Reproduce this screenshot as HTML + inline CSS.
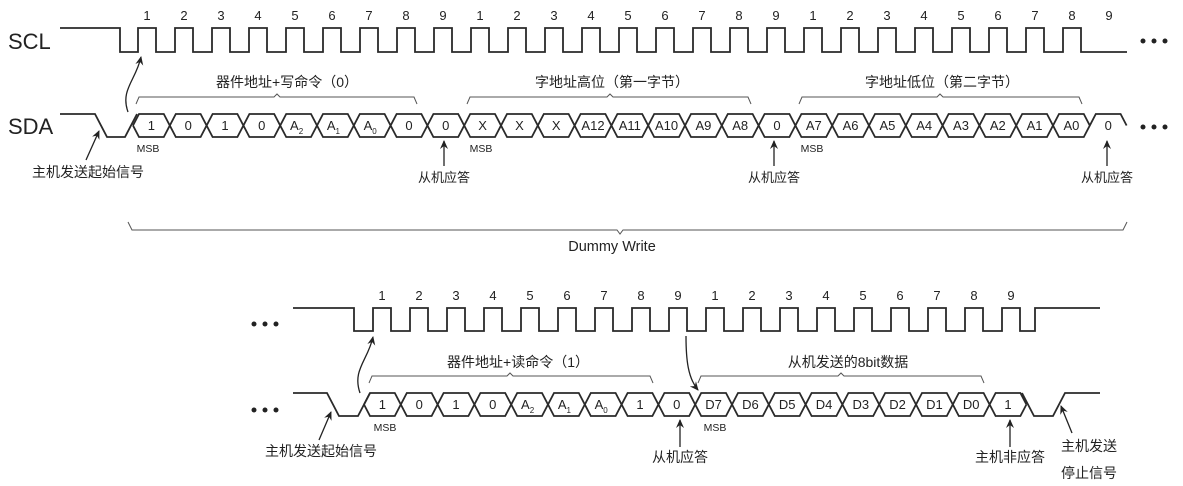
<!DOCTYPE html>
<html><head><meta charset="utf-8"><style>
html,body{margin:0;padding:0;background:#fff;}
svg{display:block;}
text{font-family:"Liberation Sans","Noto Sans CJK SC",sans-serif;fill:#222;}
.n{font-size:13px;text-anchor:middle;}
.c{font-size:13px;text-anchor:middle;}
.m{font-size:10.5px;text-anchor:middle;fill:#444;}
.l{font-size:13px;text-anchor:middle;}
.l2{font-size:14px;text-anchor:middle;}
.big{font-size:22px;}
.w{fill:none;stroke:#2a2a2a;stroke-width:1.8;}
.b{fill:none;stroke:#555;stroke-width:1;}
.a{fill:none;stroke:#222;stroke-width:1.3;}
.dot{fill:#222;}
</style></head><body>
<svg width="1183" height="486" viewBox="0 0 1183 486" xmlns="http://www.w3.org/2000/svg">
<defs><marker id="ah" markerWidth="10" markerHeight="10" refX="8" refY="5" orient="auto" markerUnits="userSpaceOnUse"><path d="M0,1 L9,5 L0,9 L3,5 z" fill="#222"/></marker></defs>

<!-- TOP -->
<text x="8" y="49" class="big">SCL</text>
<text x="8" y="134" class="big">SDA</text>
<path class="w" d="M60,28 H120 V52 H138 V28 h18 V52 h19 V28 h18 V52 h19 V28 h18 V52 h19 V28 h18 V52 h19 V28 h18 V52 h19 V28 h18 V52 h19 V28 h18 V52 h19 V28 h18 V52 h19 V28 h18 V52 h19 V28 h18 V52 h19 V28 h18 V52 h19 V28 h18 V52 h19 V28 h18 V52 h19 V28 h18 V52 h19 V28 h18 V52 h19 V28 h18 V52 h19 V28 h18 V52 h19 V28 h18 V52 h19 V28 h18 V52 h19 V28 h18 V52 h19 V28 h18 V52 h19 V28 h18 V52 h19 V28 h18 V52 h19 V28 h18 V52 h19 V28 h18 V52 h19 V28 h18 V52 H1127"/>
<g class="n">
<text x="147" y="20">1</text><text x="184" y="20">2</text><text x="221" y="20">3</text><text x="258" y="20">4</text><text x="295" y="20">5</text><text x="332" y="20">6</text><text x="369" y="20">7</text><text x="406" y="20">8</text><text x="443" y="20">9</text>
<text x="480" y="20">1</text><text x="517" y="20">2</text><text x="554" y="20">3</text><text x="591" y="20">4</text><text x="628" y="20">5</text><text x="665" y="20">6</text><text x="702" y="20">7</text><text x="739" y="20">8</text><text x="776" y="20">9</text>
<text x="813" y="20">1</text><text x="850" y="20">2</text><text x="887" y="20">3</text><text x="924" y="20">4</text><text x="961" y="20">5</text><text x="998" y="20">6</text><text x="1035" y="20">7</text><text x="1072" y="20">8</text><text x="1109" y="20">9</text>
</g>
<circle class="dot" cx="1143" cy="41" r="2.5"/><circle class="dot" cx="1154" cy="41" r="2.5"/><circle class="dot" cx="1165" cy="41" r="2.5"/>

<path class="w" d="M60,114 H95 L107,137 H125 L137,114"/>
<path class="w" d="M133,125.5 l6,-11.5 h24.8 l6,11.5 l6,-11.5 h24.8 l6,11.5 l6,-11.5 h24.8 l6,11.5 l6,-11.5 h24.8 l6,11.5 l6,-11.5 h24.8 l6,11.5 l6,-11.5 h24.8 l6,11.5 l6,-11.5 h24.8 l6,11.5 l6,-11.5 h24.8 l6,11.5 l6,-11.5 h24.8 l6,11.5 l6,-11.5 h24.8 l6,11.5 l6,-11.5 h24.8 l6,11.5 l6,-11.5 h24.8 l6,11.5 l6,-11.5 h24.8 l6,11.5 l6,-11.5 h24.8 l6,11.5 l6,-11.5 h24.8 l6,11.5 l6,-11.5 h24.8 l6,11.5 l6,-11.5 h24.8 l6,11.5 l6,-11.5 h24.8 l6,11.5 l6,-11.5 h24.8 l6,11.5 l6,-11.5 h24.8 l6,11.5 l6,-11.5 h24.8 l6,11.5 l6,-11.5 h24.8 l6,11.5 l6,-11.5 h24.8 l6,11.5 l6,-11.5 h24.8 l6,11.5 l6,-11.5 h24.8 l6,11.5 l6,-11.5 h24.8 l6,11.5 l6,-11.5 h24.8 l6,11.5 M133,125.5 l6,11.5 h24.8 l6,-11.5 l6,11.5 h24.8 l6,-11.5 l6,11.5 h24.8 l6,-11.5 l6,11.5 h24.8 l6,-11.5 l6,11.5 h24.8 l6,-11.5 l6,11.5 h24.8 l6,-11.5 l6,11.5 h24.8 l6,-11.5 l6,11.5 h24.8 l6,-11.5 l6,11.5 h24.8 l6,-11.5 l6,11.5 h24.8 l6,-11.5 l6,11.5 h24.8 l6,-11.5 l6,11.5 h24.8 l6,-11.5 l6,11.5 h24.8 l6,-11.5 l6,11.5 h24.8 l6,-11.5 l6,11.5 h24.8 l6,-11.5 l6,11.5 h24.8 l6,-11.5 l6,11.5 h24.8 l6,-11.5 l6,11.5 h24.8 l6,-11.5 l6,11.5 h24.8 l6,-11.5 l6,11.5 h24.8 l6,-11.5 l6,11.5 h24.8 l6,-11.5 l6,11.5 h24.8 l6,-11.5 l6,11.5 h24.8 l6,-11.5 l6,11.5 h24.8 l6,-11.5 l6,11.5 h24.8 l6,-11.5 l6,11.5 h24.8 l6,-11.5"/>
<g class="c">
<text x="151.4" y="130">1</text><text x="188.2" y="130">0</text><text x="225" y="130">1</text><text x="261.8" y="130">0</text>
<text x="296.6" y="130">A<tspan font-size="8" dy="4">2</tspan></text><text x="333.4" y="130">A<tspan font-size="8" dy="4">1</tspan></text><text x="370.2" y="130">A<tspan font-size="8" dy="4">0</tspan></text>
<text x="409" y="130">0</text><text x="445.8" y="130">0</text>
<text x="482.6" y="130">X</text><text x="519.4" y="130">X</text><text x="556.2" y="130">X</text><text x="593" y="130">A12</text><text x="629.8" y="130">A11</text><text x="666.6" y="130">A10</text><text x="703.4" y="130">A9</text><text x="740.2" y="130">A8</text><text x="777" y="130">0</text>
<text x="813.8" y="130">A7</text><text x="850.6" y="130">A6</text><text x="887.4" y="130">A5</text><text x="924.2" y="130">A4</text><text x="961" y="130">A3</text><text x="997.8" y="130">A2</text><text x="1034.6" y="130">A1</text><text x="1071.4" y="130">A0</text><text x="1108.2" y="130">0</text>
</g>
<circle class="dot" cx="1143" cy="127" r="2.5"/><circle class="dot" cx="1154" cy="127" r="2.5"/><circle class="dot" cx="1165" cy="127" r="2.5"/>
<g class="m"><text x="148" y="152">MSB</text><text x="481" y="152">MSB</text><text x="812" y="152">MSB</text></g>

<path class="b" d="M136,104 L139,97 H274 L277,94 L280,97 H414 L417,104"/>
<path class="b" d="M467,104 L470,97 H607 L610,94 L613,97 H748 L751,104"/>
<path class="b" d="M799,104 L802,97 H937 L940,94 L943,97 H1079 L1082,104"/>
<text class="l2" x="287" y="87">器件地址+写命令（0）</text>
<text class="l2" x="612" y="87">字地址高位（第一字节）</text>
<text class="l2" x="942" y="87">字地址低位（第二字节）</text>

<path class="a" d="M86,160 L99,131" marker-end="url(#ah)"/>
<text class="l2" x="88" y="177">主机发送起始信号</text>
<path class="a" d="M128,112 C120,90 136,80 141,57" marker-end="url(#ah)"/>
<path class="a" d="M444,166 V141" marker-end="url(#ah)"/>
<text class="l" x="444" y="182">从机应答</text>
<path class="a" d="M774,166 V141" marker-end="url(#ah)"/>
<text class="l" x="774" y="182">从机应答</text>
<path class="a" d="M1107,166 V141" marker-end="url(#ah)"/>
<text class="l" x="1107" y="182">从机应答</text>

<path class="b" d="M128,222 L132,230 H617 L620,234 L623,230 H1123 L1127,222"/>
<text class="l" x="612" y="251" style="font-size:14.5px">Dummy Write</text>

<!-- BOTTOM -->
<circle class="dot" cx="254" cy="324" r="2.5"/><circle class="dot" cx="265" cy="324" r="2.5"/><circle class="dot" cx="276" cy="324" r="2.5"/>
<circle class="dot" cx="254" cy="410" r="2.5"/><circle class="dot" cx="265" cy="410" r="2.5"/><circle class="dot" cx="276" cy="410" r="2.5"/>
<path class="w" d="M293,308 H354 V331 H373 V308 h18 V331 h19 V308 h18 V331 h19 V308 h18 V331 h19 V308 h18 V331 h19 V308 h18 V331 h19 V308 h18 V331 h19 V308 h18 V331 h19 V308 h18 V331 h19 V308 h18 V331 h19 V308 h18 V331 h19 V308 h18 V331 h19 V308 h18 V331 h19 V308 h18 V331 h19 V308 h18 V331 h19 V308 h18 V331 h19 V308 h18 V331 h19 V308 h18 V331 h19 V308 h18 V331 H1035 V308 H1100"/>
<g class="n">
<text x="382" y="300">1</text><text x="419" y="300">2</text><text x="456" y="300">3</text><text x="493" y="300">4</text><text x="530" y="300">5</text><text x="567" y="300">6</text><text x="604" y="300">7</text><text x="641" y="300">8</text><text x="678" y="300">9</text>
<text x="715" y="300">1</text><text x="752" y="300">2</text><text x="789" y="300">3</text><text x="826" y="300">4</text><text x="863" y="300">5</text><text x="900" y="300">6</text><text x="937" y="300">7</text><text x="974" y="300">8</text><text x="1011" y="300">9</text>
</g>
<path class="w" d="M293,393 H327 L339,416 H358 L370,393"/>
<path class="w" d="M364,404.5 l6,-11.5 h24.8 l6,11.5 l6,-11.5 h24.8 l6,11.5 l6,-11.5 h24.8 l6,11.5 l6,-11.5 h24.8 l6,11.5 l6,-11.5 h24.8 l6,11.5 l6,-11.5 h24.8 l6,11.5 l6,-11.5 h24.8 l6,11.5 l6,-11.5 h24.8 l6,11.5 l6,-11.5 h24.8 l6,11.5 l6,-11.5 h24.8 l6,11.5 l6,-11.5 h24.8 l6,11.5 l6,-11.5 h24.8 l6,11.5 l6,-11.5 h24.8 l6,11.5 l6,-11.5 h24.8 l6,11.5 l6,-11.5 h24.8 l6,11.5 l6,-11.5 h24.8 l6,11.5 l6,-11.5 h24.8 l6,11.5 l6,-11.5 h24.8 l6,11.5 M364,404.5 l6,11.5 h24.8 l6,-11.5 l6,11.5 h24.8 l6,-11.5 l6,11.5 h24.8 l6,-11.5 l6,11.5 h24.8 l6,-11.5 l6,11.5 h24.8 l6,-11.5 l6,11.5 h24.8 l6,-11.5 l6,11.5 h24.8 l6,-11.5 l6,11.5 h24.8 l6,-11.5 l6,11.5 h24.8 l6,-11.5 l6,11.5 h24.8 l6,-11.5 l6,11.5 h24.8 l6,-11.5 l6,11.5 h24.8 l6,-11.5 l6,11.5 h24.8 l6,-11.5 l6,11.5 h24.8 l6,-11.5 l6,11.5 h24.8 l6,-11.5 l6,11.5 h24.8 l6,-11.5 l6,11.5 h24.8 l6,-11.5 l6,11.5 h24.8 l6,-11.5"/>
<path class="w" d="M1022,393 L1034,416 H1053 L1065,393 H1100"/>
<g class="c">
<text x="382.4" y="409">1</text><text x="419.2" y="409">0</text><text x="456" y="409">1</text><text x="492.8" y="409">0</text>
<text x="527.6" y="409">A<tspan font-size="8" dy="4">2</tspan></text><text x="564.4" y="409">A<tspan font-size="8" dy="4">1</tspan></text><text x="601.2" y="409">A<tspan font-size="8" dy="4">0</tspan></text>
<text x="640" y="409">1</text><text x="676.8" y="409">0</text>
<text x="713.6" y="409">D7</text><text x="750.4" y="409">D6</text><text x="787.2" y="409">D5</text><text x="824" y="409">D4</text><text x="860.8" y="409">D3</text><text x="897.6" y="409">D2</text><text x="934.4" y="409">D1</text><text x="971.2" y="409">D0</text><text x="1008" y="409">1</text>
</g>
<g class="m"><text x="385" y="431">MSB</text><text x="715" y="431">MSB</text></g>
<path class="b" d="M369,383 L372,376 H507 L510,373 L513,376 H650 L653,383"/>
<path class="b" d="M698,383 L701,376 H838 L841,373 L844,376 H981 L984,383"/>
<text class="l2" x="518" y="367">器件地址+读命令（1）</text>
<text class="l2" x="848" y="367">从机发送的8bit数据</text>

<path class="a" d="M319,440 L331,412" marker-end="url(#ah)"/>
<text class="l2" x="321" y="456">主机发送起始信号</text>
<path class="a" d="M360,393 C352,370 368,360 373,337" marker-end="url(#ah)"/>
<path class="a" d="M686,336 C686,360 688,378 698,390" marker-end="url(#ah)"/>
<path class="a" d="M680,447 V420" marker-end="url(#ah)"/>
<text class="l2" x="680" y="462">从机应答</text>
<path class="a" d="M1010,447 V420" marker-end="url(#ah)"/>
<text class="l2" x="1010" y="462">主机非应答</text>
<path class="a" d="M1072,433 L1061,406" marker-end="url(#ah)"/>
<text class="l2" x="1089" y="451">主机发送</text>
<text class="l2" x="1089" y="478">停止信号</text>
</svg>
</body></html>
